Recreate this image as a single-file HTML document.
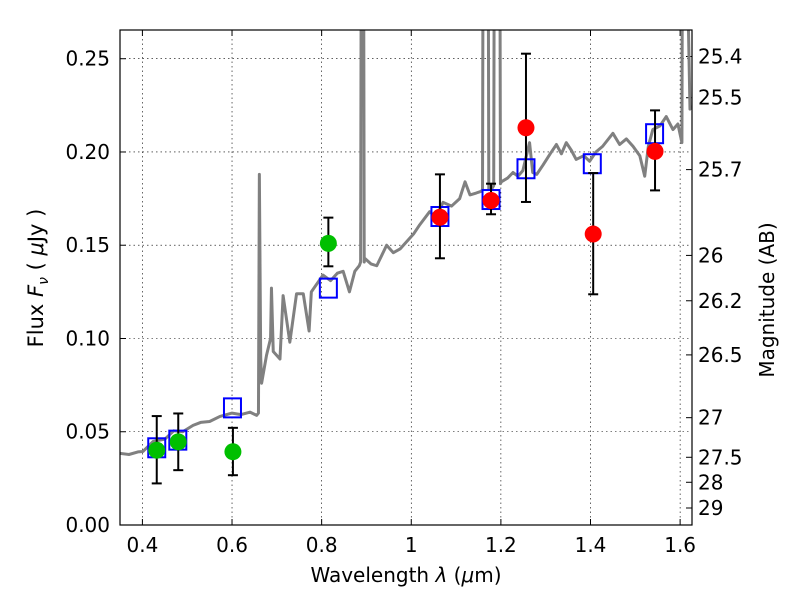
<!DOCTYPE html>
<html><head><meta charset="utf-8"><style>
body{margin:0;background:#fff;width:800px;height:600px;overflow:hidden}
svg text{font-family:"DejaVu Sans","Liberation Sans",sans-serif;fill:#000}
</style></head><body>
<svg id="c" width="800" height="600" viewBox="0 0 800 600" xmlns="http://www.w3.org/2000/svg"></svg>
<script>
const specLam=[0.35,0.37,0.39,0.401,0.424,0.45,0.47,0.49,0.513,0.53,0.55,0.573,0.6,0.62,0.64,0.655,0.659,0.661,0.664,0.666,0.677,0.686,0.688,0.692,0.707,0.714,0.729,0.744,0.759,0.772,0.777,0.803,0.82,0.835,0.848,0.862,0.874,0.884,0.887,0.889,0.893,0.895,0.896,0.91,0.923,0.935,0.945,0.96,0.975,0.99,1.005,1.019,1.041,1.055,1.071,1.09,1.108,1.12,1.131,1.145,1.157,1.159,1.161,1.171,1.173,1.179,1.184,1.186,1.197,1.199,1.201,1.215,1.227,1.238,1.249,1.264,1.271,1.28,1.294,1.31,1.324,1.335,1.346,1.357,1.368,1.385,1.398,1.412,1.427,1.45,1.465,1.48,1.495,1.51,1.521,1.529,1.539,1.555,1.569,1.584,1.595,1.604,1.606,1.608,1.622,1.63];
const specFlux=[0.0384,0.0378,0.0392,0.0394,0.0448,0.046,0.0505,0.050,0.0534,0.055,0.0555,0.0582,0.060,0.0592,0.0605,0.0588,0.060,0.188,0.09,0.076,0.091,0.10,0.127,0.093,0.089,0.123,0.098,0.124,0.124,0.104,0.125,0.134,0.131,0.135,0.136,0.125,0.136,0.139,0.141,0.4,0.4,0.141,0.143,0.14,0.139,0.145,0.150,0.146,0.148,0.152,0.156,0.161,0.168,0.165,0.173,0.171,0.175,0.184,0.177,0.178,0.179,0.18,0.4,0.4,0.18,0.180,0.182,0.4,0.4,0.183,0.184,0.186,0.189,0.187,0.190,0.205,0.189,0.188,0.193,0.199,0.204,0.199,0.205,0.201,0.196,0.198,0.195,0.2,0.203,0.210,0.204,0.207,0.203,0.198,0.187,0.203,0.212,0.214,0.219,0.212,0.215,0.205,0.4,0.4,0.223,0.225];
const greenLam=[0.432,0.480,0.602,0.815];
const greenFlux=[0.0401,0.0446,0.0393,0.151];
const greenHi=[0.0584,0.0598,0.0521,0.1648];
const greenLo=[0.0223,0.0294,0.0267,0.1387];
const redLam=[1.064,1.178,1.256,1.406,1.544];
const redFlux=[0.165,0.174,0.213,0.156,0.2003];
const redHi=[0.188,0.183,0.2527,0.1887,0.2223];
const redLo=[0.143,0.1666,0.1732,0.1237,0.1794];
const modelLam=[0.432,0.479,0.601,0.815,1.064,1.178,1.256,1.404,1.543];
const modelFlux=[0.0414,0.0455,0.0628,0.127,0.1654,0.1745,0.191,0.1937,0.2098];
const xTicks=[0.4,0.6,0.8,1.0,1.2,1.4,1.6];
const xTickLabels=["0.4","0.6","0.8","1","1.2","1.4","1.6"];
const yTicks=[0,0.05,0.10,0.15,0.20,0.25];
const yTickLabels=["0.00","0.05","0.10","0.15","0.20","0.25"];
const magTicks=[25.4,25.5,25.7,26,26.2,26.5,27,27.5,28,29];
const magTickLabels=["25.4","25.5","25.7","26","26.2","26.5","27","27.5","28","29"];

const L=120,R=692,T=30,B=525,xmin=0.35,xmax=1.6265,ymin=0,ymax=0.2654;
const X=v=>L+(v-xmin)/(xmax-xmin)*(R-L);
const Y=v=>B-(v-ymin)/(ymax-ymin)*(B-T);
const NS="http://www.w3.org/2000/svg",svg=document.getElementById('c');
function el(t,a,p){const e=document.createElementNS(NS,t);for(const k in a)e.setAttribute(k,a[k]);(p||svg).appendChild(e);return e;}
const defs=el('defs',{});const cp=el('clipPath',{id:'clip'},defs);el('rect',{x:L,y:T,width:R-L,height:B-T},cp);
xTicks.forEach((v,i)=>{const g=el('line',{x1:X(v),x2:X(v),y1:T,y2:B,stroke:'#000','stroke-width':0.6,'stroke-dasharray':'1.5,3'});

el('line',{x1:X(v),x2:X(v),y1:B,y2:B-6,stroke:'#000'});el('line',{x1:X(v),x2:X(v),y1:T,y2:T+6,stroke:'#000'});
const t=el('text',{x:X(v),y:B+27,'text-anchor':'middle','font-size':20});t.textContent=xTickLabels[i];
});
yTicks.forEach((v,i)=>{if(v>0){const g=el('line',{x1:L,x2:R,y1:Y(v),y2:Y(v),stroke:'#000','stroke-width':0.6,'stroke-dasharray':'1.5,3'});
}
el('line',{x1:L,x2:L+6,y1:Y(v),y2:Y(v),stroke:'#000'});
const t=el('text',{x:L-10,y:Y(v)+7,'text-anchor':'end','font-size':20});t.textContent=yTickLabels[i];
});
magTicks.forEach((m,i)=>{const f=Math.pow(10,(23.9-m)/2.5);const y=Y(f);
el('line',{x1:R-6,x2:R,y1:y,y2:y,stroke:'#000'});
const t=el('text',{x:R+6,y:y+7,'font-size':20});t.textContent=magTickLabels[i];
});
const sp=el('polyline',{points:specLam.map((l,i)=>X(l)+','+Y(specFlux[i])).join(' '),fill:'none',stroke:'#808080','stroke-width':3,'clip-path':'url(#clip)','stroke-linejoin':'round'});

modelLam.forEach((l,i)=>{const r=el('rect',{x:X(l)-8.5,y:Y(modelFlux[i])-9.5,width:17,height:19,fill:'none',stroke:'#0000ff','stroke-width':2});
});
function pts(lam,fl,hi,lo,col,name){lam.forEach((l,i)=>{const x=X(l);
const g=el('g',{});
el('line',{x1:x,x2:x,y1:Y(hi[i]),y2:Y(lo[i]),stroke:'#000','stroke-width':2},g);
el('line',{x1:x-5,x2:x+5,y1:Y(hi[i]),y2:Y(hi[i]),stroke:'#000','stroke-width':2},g);
el('line',{x1:x-5,x2:x+5,y1:Y(lo[i]),y2:Y(lo[i]),stroke:'#000','stroke-width':2},g);
el('circle',{cx:x,cy:Y(fl[i]),r:8.5,fill:col},g);});}
pts(greenLam,greenFlux,greenHi,greenLo,'#00bf00','observed-point-green');
pts(redLam,redFlux,redHi,redLo,'#ff0000','observed-point-red');
const fr=el('rect',{x:L,y:T,width:R-L,height:B-T,fill:'none',stroke:'#000','stroke-width':1.2});

</script>
<div style="position:absolute;left:0;top:0">
<svg width="800" height="600" style="position:absolute;left:0;top:0">
<text x="406" y="582" text-anchor="middle" font-size="20">Wavelength  <tspan font-style="italic">λ</tspan> (<tspan font-style="italic">μ</tspan>m)</text>
<text transform="translate(43,278) rotate(-90)" text-anchor="middle" font-size="21">Flux  <tspan font-style="italic">F</tspan><tspan font-style="italic" font-size="14" dy="5">ν</tspan><tspan dy="-5">  ( </tspan><tspan font-style="italic">μ</tspan>Jy )</text>
<text transform="translate(774,300) rotate(-90)" text-anchor="middle" font-size="20">Magnitude (AB)</text>
</svg></div>
</body></html>
